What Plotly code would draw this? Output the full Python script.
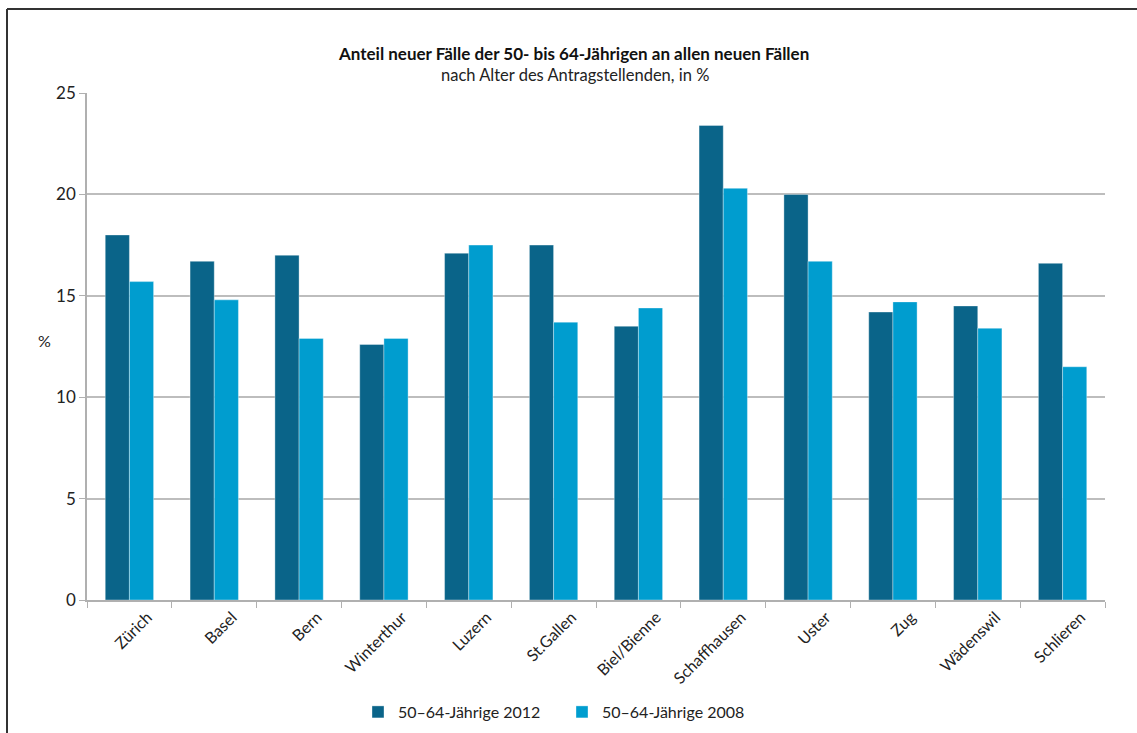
import plotly.graph_objects as go

categories = ["Zürich", "Basel", "Bern", "Winterthur", "Luzern", "St.Gallen",
              "Biel/Bienne", "Schaffhausen", "Uster", "Zug", "Wädenswil", "Schlieren"]
values_2012 = [18.0, 16.7, 17.0, 12.6, 17.1, 17.5, 13.5, 23.4, 20.0, 14.2, 14.5, 16.6]
values_2008 = [15.7, 14.8, 12.9, 12.9, 17.5, 13.7, 14.4, 20.3, 16.7, 14.7, 13.4, 11.5]
series_names = ["50–64-Jährige 2012", "50–64-Jährige 2008"]
y_ticks = [0, 5, 10, 15, 20, 25]

W, H = 1137, 733
OFFY = 8  # page top margin (set below), no left margin
# target screen positions of plot area
SL, SR, ST, SB = 87, 1105, 93, 600
L = SL
T = ST - OFFY
R = W - SR
B = H - (SB - OFFY)
pw, ph = SR - SL, SB - ST

def px_x(p):
    return (p - SL) / pw

def px_y(p):
    return (SB - p) / ph

FONT = "Lato"
dark = "#0a6489"
light = "#009dcf"

fig = go.Figure()
fig.add_trace(go.Bar(x=categories, y=values_2012, name=series_names[0],
                     marker=dict(color=dark, line=dict(color="rgba(255,255,255,0.35)", width=1))))
fig.add_trace(go.Bar(x=categories, y=values_2008, name=series_names[1],
                     marker=dict(color=light, line=dict(color="rgba(255,255,255,0.35)", width=1))))

frame = dict(color="#333", width=2)

fig.update_layout(
    width=W, height=H,
    margin=dict(l=L, r=R, t=T, b=B),
    paper_bgcolor="white", plot_bgcolor="white",
    barmode="group", bargap=0.43, bargroupgap=0,
    font=dict(family=FONT, size=16, color="#222"),
    showlegend=True,
    legend=dict(orientation="h", x=px_x(562), xanchor="center", y=px_y(712), yanchor="middle",
                font=dict(size=16, color="#222"), itemwidth=30, traceorder="normal",
                entrywidthmode="pixels", entrywidth=159),
    xaxis=dict(showline=True, linecolor="#b0b0b0", linewidth=1.5, ticks="outside",
               tickson="boundaries", ticklen=6, tickcolor="#b0b0b0", tickangle=-45,
               ticklabelshift=18,
               tickfont=dict(size=16, color="#222"), showgrid=False),
    yaxis=dict(range=[0, 25], tickvals=y_ticks, showline=True, linecolor="#b0b0b0", linewidth=1.5,
               ticks="outside", ticklen=6, tickcolor="#b0b0b0", gridcolor="#bdbdbd", gridwidth=1.5,
               tickfont=dict(size=17, color="#222"), zeroline=False),
    annotations=[
        dict(text="<b>Anteil neuer Fälle der 50- bis 64-Jährigen an allen neuen Fällen</b>",
             xref="paper", yref="paper", x=px_x(573), y=px_y(41), showarrow=False,
             font=dict(size=17, color="#111")),
        dict(text="nach Alter des Antragstellenden, in %",
             xref="paper", yref="paper", x=px_x(575), y=px_y(63), showarrow=False,
             font=dict(size=16.5, color="#222")),
        dict(text="%", xref="paper", yref="paper", x=px_x(36), y=px_y(340), showarrow=False,
             font=dict(size=16, color="#222")),
    ],
    shapes=[
        dict(type="line", xref="paper", yref="paper",
             x0=px_x(7), x1=px_x(W), y0=px_y(9), y1=px_y(9), line=frame, layer="below"),
        dict(type="line", xref="paper", yref="paper",
             x0=px_x(7), x1=px_x(7), y0=px_y(9), y1=px_y(H), line=frame, layer="below"),
    ],
)

fig.write_html("out.html", config={"displayModeBar": False},
               post_script="document.body.style.margin='8px 0 0 0';document.body.style.overflow='hidden';")
